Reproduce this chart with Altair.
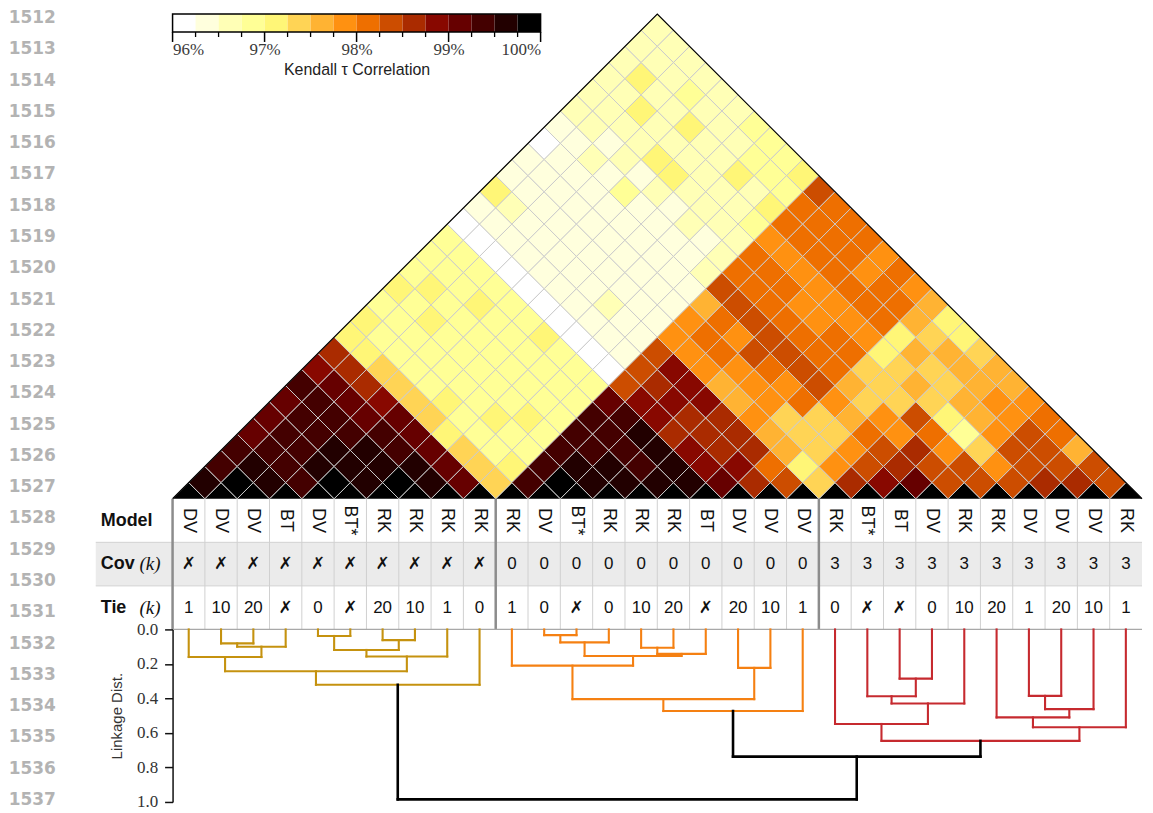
import altair as alt
import pandas as pd

N = 30
SANS = "Liberation Sans"
SERIF = "Liberation Serif"

# ---------------- table rows ----------------
model = ["DV", "DV", "DV", "BT", "DV", "BT*", "RK", "RK", "RK", "RK",
         "RK", "DV", "BT*", "RK", "RK", "RK", "BT", "DV", "DV", "DV",
         "RK", "BT*", "BT", "DV", "RK", "RK", "DV", "DV", "DV", "RK"]
cov_k = ["✗"] * 10 + ["0"] * 10 + ["3"] * 10
tie_k = ["1", "10", "20", "✗", "0", "✗", "20", "10", "1", "0",
         "1", "0", "✗", "0", "10", "20", "✗", "20", "10", "1",
         "0", "✗", "✗", "0", "10", "20", "1", "20", "10", "1"]
line_numbers = [str(n) for n in range(1512, 1538)]

# ---------------- Kendall tau (%) : row i = pairs (i, i+1 .. 29) ----------------
r00 = [99.6, 99.4, 99.4, 99.1, 99.1, 99.1, 99.4, 98.9, 98.6, 97.1, 97.1, 96.9, 97.1, 96.9, 96.9, 96.9, 96.1, 96.4, 97.1,
       96.4, 96.4, 96.1, 96.4, 96.6, 96.6, 96.6, 96.6, 96.6, 96.6]
r01 = [99.9, 99.6, 99.4, 99.4, 99.4, 99.4, 99.1, 98.6, 97.1, 96.9, 96.9, 96.9, 97.1, 96.9, 96.9, 96.1, 96.4, 96.6,
       96.4, 96.4, 96.4, 96.4, 96.6, 96.6, 96.6, 97.1, 96.6, 96.6]
r02 = [99.6, 99.4, 99.4, 99.4, 99.4, 99.1, 98.6, 97.4, 96.9, 96.9, 97.1, 96.9, 96.9, 96.9, 96.1, 96.4, 96.4,
       96.4, 96.4, 96.4, 96.6, 96.4, 96.6, 97.1, 96.6, 96.6, 96.6]
r03 = [99.4, 99.6, 99.6, 99.4, 99.1, 98.9, 97.4, 96.9, 96.9, 96.9, 96.9, 97.1, 96.9, 96.1, 96.4, 96.4,
       96.4, 96.4, 96.4, 96.4, 96.6, 96.6, 96.6, 96.6, 96.9, 96.6]
r04 = [99.9, 99.6, 99.6, 99.4, 99.1, 97.4, 96.9, 96.9, 96.9, 96.9, 96.9, 96.9, 96.1, 96.4, 96.4,
       96.4, 96.4, 96.4, 96.9, 96.4, 97.1, 96.6, 97.1, 96.6, 96.6]
r05 = [99.6, 99.6, 99.4, 99.1, 97.4, 97.1, 96.9, 96.9, 96.9, 96.9, 96.9, 96.1, 96.4, 96.4,
       96.4, 96.4, 96.4, 96.4, 96.6, 97.1, 96.6, 96.6, 96.6, 96.6]
r06 = [99.9, 99.6, 99.1, 97.1, 96.9, 96.9, 96.9, 96.9, 96.9, 97.1, 96.1, 96.4, 96.4,
       96.4, 96.4, 96.4, 96.4, 96.4, 96.6, 96.6, 96.6, 96.6, 96.9]
r07 = [99.6, 99.1, 97.4, 96.9, 97.1, 96.9, 96.9, 96.9, 96.9, 96.1, 96.4, 96.6,
       96.4, 96.4, 96.4, 96.4, 96.6, 96.6, 96.6, 97.1, 96.9, 96.9]
r08 = [99.1, 97.4, 96.9, 96.9, 97.1, 96.9, 96.9, 96.9, 96.1, 96.4, 96.4,
       96.4, 96.4, 96.4, 96.4, 96.4, 96.6, 96.6, 96.6, 96.9, 96.9]
r09 = [97.4, 97.1, 96.9, 96.9, 96.9, 96.9, 96.9, 96.1, 96.4, 96.4,
       96.4, 96.4, 96.4, 96.6, 96.6, 96.6, 96.9, 97.1, 96.9, 97.1]
r10 = [99.4, 99.4, 99.4, 99.4, 99.4, 99.1, 98.4, 98.4, 98.4,
       97.9, 97.9, 97.6, 98.4, 98.1, 98.1, 97.9, 98.1, 98.1, 98.4]
r11 = [99.9, 99.6, 99.4, 99.4, 99.4, 98.9, 98.6, 98.9,
       97.9, 98.1, 98.1, 98.4, 98.1, 98.1, 97.9, 98.1, 98.1, 98.1]
r12 = [99.6, 99.6, 99.4, 99.6, 98.9, 98.9, 98.9,
       97.9, 98.1, 97.9, 98.4, 98.1, 98.1, 97.9, 98.1, 98.1, 98.1]
r13 = [99.6, 99.4, 99.6, 98.6, 98.6, 98.9,
       97.6, 97.9, 98.4, 98.4, 98.1, 97.9, 97.9, 98.1, 98.1, 98.1]
r14 = [99.6, 99.6, 98.9, 98.6, 98.6,
       97.6, 97.9, 98.1, 98.4, 98.1, 97.9, 97.9, 98.1, 97.9, 97.9]
r15 = [99.6, 98.9, 98.6, 98.6,
       97.9, 97.9, 97.9, 98.4, 98.1, 98.1, 97.9, 98.1, 98.1, 98.1]
r16 = [99.1, 98.9, 98.6,
       97.6, 97.4, 98.1, 98.4, 98.1, 98.1, 97.9, 98.1, 98.1, 97.9]
r17 = [98.6, 98.1,
       97.6, 97.4, 97.4, 97.9, 97.6, 97.4, 97.1, 97.1, 97.6, 97.6]
r18 = [98.4,
       97.1, 97.4, 97.4, 97.6, 97.4, 97.4, 97.4, 97.6, 97.4, 97.1]
r19 = [97.4, 97.9, 97.9, 98.1, 97.9, 97.4, 97.6, 97.4, 97.6, 97.1]
r20 = [98.6, 98.4, 98.4, 97.9, 98.4, 97.4, 97.4, 97.6, 97.4]
r21 = [98.9, 98.6, 98.6, 98.1, 97.1, 97.6, 97.6, 97.6]
r22 = [99.1, 98.4, 97.9, 96.9, 97.6, 97.9, 97.6]
r23 = [98.4, 98.4, 97.4, 97.9, 97.9, 97.9]
r24 = [98.4, 97.9, 98.4, 98.4, 98.1]
r25 = [98.4, 98.4, 98.4, 98.1]
r26 = [98.6, 98.4, 97.6]
r27 = [98.6, 98.4]
r28 = [98.4]
tau_rows = [r00, r01, r02, r03, r04, r05, r06, r07, r08, r09, r10, r11, r12, r13, r14,
            r15, r16, r17, r18, r19, r20, r21, r22, r23, r24, r25, r26, r27, r28]

# 16-level afmhot_r-like colour map, 96% .. 100%
cmap16 = ["#ffffff", "#ffffdd", "#ffffb6", "#ffff96", "#fff677", "#ffd455", "#ffb333", "#ff9111",
          "#ee6f00", "#cc4d00", "#aa2b00", "#880800", "#660000", "#440000", "#220000", "#000000"]
cbar_ticks = [96, 97, 98, 99, 100]

# ---------------- hierarchical linkage (new cluster id = 30 + row) ----------------
link_left = [1, 30, 0, 4, 6, 33, 35, 32, 37, 11, 39, 14, 41, 40, 10, 17, 44, 46,
             22, 21, 49, 20, 26, 52, 25, 54, 51, 47, 38]
link_right = [2, 3, 31, 5, 7, 34, 8, 36, 9, 12, 13, 15, 16, 42, 43, 18, 45, 19,
              23, 48, 24, 50, 27, 28, 53, 29, 55, 56, 57]
link_height = [0.081, 0.100, 0.160, 0.038, 0.062, 0.119, 0.157, 0.242, 0.321,
               0.033, 0.075, 0.106, 0.142, 0.154, 0.210, 0.223, 0.404, 0.473,
               0.285, 0.387, 0.429, 0.548, 0.385, 0.462, 0.510, 0.567, 0.646,
               0.737, 0.985]
link_group = ["g1"] * 9 + ["g2"] * 9 + ["g3"] * 9 + ["top", "top"]
link_colors = {"g1": "#c5920f", "g2": "#f58012", "g3": "#c62a2f", "top": "#000000"}

# ---------------- layout ----------------
W = 972
u = W / N
HA = u * N / 2          # triangle height
HB = 131                # table
HC = 173                # dendrogram

# ---------------- heat-map cells ----------------
recs = [{"i": i, "j": i, "tau": 100.0} for i in range(N)]
for i, row in enumerate(tau_rows):
    assert len(row) == N - 1 - i, (i, len(row))
    for k, v in enumerate(row):
        recs.append({"i": i, "j": i + 1 + k, "tau": v})
cells = pd.DataFrame(recs)
cells["cx"] = (cells["i"] + cells["j"] + 1) / 2
cells["cy"] = (cells["j"] - cells["i"]) / 2

cscale = alt.Scale(type="quantize", domain=[96, 100], range=cmap16, nice=False)
xs = alt.Scale(domain=[0, N], nice=False, zero=False)
ys = alt.Scale(domain=[0, N / 2], nice=False, zero=False)

diamonds = alt.Chart(cells).mark_point(
    shape="diamond", filled=True, size=u * u, opacity=1,
    stroke="#cbcbcb", strokeWidth=1, clip=True
).encode(
    x=alt.X("cx:Q", scale=xs, axis=None),
    y=alt.Y("cy:Q", scale=ys, axis=None),
    color=alt.Color("tau:Q", scale=cscale, legend=None),
)

outline = alt.Chart(pd.DataFrame({"cx": [0, N / 2, N], "cy": [0, N / 2, 0], "o": [0, 1, 2]})).mark_line(
    color="black", strokeWidth=1.2
).encode(x=alt.X("cx:Q", scale=xs, axis=None), y=alt.Y("cy:Q", scale=ys, axis=None), order="o:Q")

# colour bar (drawn from the same colour scale)
step = (cbar_ticks[-1] - cbar_ticks[0]) / len(cmap16)
cb = pd.DataFrame({"lo": [cbar_ticks[0] + k * step for k in range(len(cmap16))]})
cb["hi"] = cb["lo"] + step
cb["mid"] = cb["lo"] + step / 2
cbx = alt.Scale(domain=[cbar_ticks[0], cbar_ticks[-1]], range=[0, 369], nice=False, zero=False)
CB_TOP, CB_BOT = 0, 18
cb_axis = alt.Axis(orient="bottom", offset=CB_BOT - HA, values=cbar_ticks,
                   labelExpr="datum.value + '%'", ticks=False, domain=False, grid=False,
                   labelPadding=10, labelFont=SERIF, labelFontSize=17, labelColor="#3a3a3a",
                   title="Kendall τ Correlation", titleFont=SANS, titleFontSize=16,
                   titleFontWeight="normal", titleColor="#222222", titlePadding=4)
cb_rects = alt.Chart(cb).mark_rect().encode(
    x=alt.X("lo:Q", scale=cbx, axis=cb_axis), x2="hi:Q",
    y=alt.value(CB_TOP), y2=alt.value(CB_BOT),
    color=alt.Color("mid:Q", scale=cscale, legend=None),
)
cb_frame = alt.Chart(pd.DataFrame({"lo": [cbar_ticks[0]], "hi": [cbar_ticks[-1]]})).mark_rect(
    filled=False, stroke="black", strokeWidth=1.5
).encode(x=alt.X("lo:Q", scale=cbx), x2="hi:Q", y=alt.value(CB_TOP), y2=alt.value(CB_BOT))
tk = pd.DataFrame({"lo": [cbar_ticks[0] + k * step for k in range(len(cmap16) + 1)]})
tk["major"] = (tk["lo"] % 1 == 0)
cb_minor = alt.Chart(tk).transform_filter("!datum.major").mark_rule(color="black", strokeWidth=1.3).encode(
    x=alt.X("lo:Q", scale=cbx), y=alt.value(CB_BOT), y2=alt.value(CB_BOT + 5))
cb_major = alt.Chart(tk).transform_filter("datum.major").mark_rule(color="black", strokeWidth=1.5).encode(
    x=alt.X("lo:Q", scale=cbx), y=alt.value(CB_BOT), y2=alt.value(CB_BOT + 10))

panelA = alt.layer(
    alt.layer(diamonds, outline),
    alt.layer(cb_rects, cb_frame, cb_minor, cb_major),
).resolve_scale(x="independent").properties(width=W, height=HA)

# ---------------- table ----------------
rows = ["Model", "Cov", "Tie"]
tab = []
for c in range(N):
    tab.append({"col": c + 0.5, "row": "Model", "txt": model[c]})
    tab.append({"col": c + 0.5, "row": "Cov", "txt": cov_k[c]})
    tab.append({"col": c + 0.5, "row": "Tie", "txt": tie_k[c]})
tab = pd.DataFrame(tab)
xs_b = alt.Scale(domain=[0, N], nice=False, zero=False)
ys_b = alt.Scale(domain=rows, paddingInner=0, paddingOuter=0)
Yrow = alt.Y("row:N", scale=ys_b, axis=None)

group_breaks = [k for k in range(1, N) if cov_k[k] != cov_k[k - 1]]
light = pd.DataFrame({"b": [k for k in range(1, N) if k not in group_breaks]})
dark = pd.DataFrame({"b": [0] + group_breaks})

bg = alt.Chart(pd.DataFrame({"row": ["Cov"]})).mark_rect(color="#ebebeb").encode(
    x=alt.value(-77), x2=alt.value(W), y=Yrow)
hl = alt.Chart(pd.DataFrame({"row": ["Cov", "Tie"]})).mark_rule(color="#d2d2d2", strokeWidth=1).encode(
    x=alt.value(-77), x2=alt.value(W), y=alt.Y("row:N", scale=ys_b, axis=None, bandPosition=0))
hb = alt.Chart(pd.DataFrame({"row": ["Tie"]})).mark_rule(color="#a8a8a8", strokeWidth=1.2).encode(
    x=alt.value(0), x2=alt.value(W), y=alt.Y("row:N", scale=ys_b, axis=None, bandPosition=1))
vl = alt.Chart(light).mark_rule(color="#d0d0d0", strokeWidth=1).encode(
    x=alt.X("b:Q", scale=xs_b, axis=None))
vd = alt.Chart(dark).mark_rule(color="#8c8c8c", strokeWidth=2.5).encode(
    x=alt.X("b:Q", scale=xs_b, axis=None))

t_model = alt.Chart(tab).transform_filter("datum.row == 'Model'").mark_text(
    angle=90, font=SANS, fontSize=18, color="#111111", baseline="middle", align="center"
).encode(x=alt.X("col:Q", scale=xs_b, axis=None), y=Yrow, text="txt:N")
t_num = alt.Chart(tab).transform_filter("datum.row != 'Model' && datum.txt != '✗'").mark_text(
    font=SANS, fontSize=17, color="#111111", baseline="middle", align="center"
).encode(x=alt.X("col:Q", scale=xs_b, axis=None), y=Yrow, text="txt:N")
t_x = alt.Chart(tab).transform_filter("datum.row != 'Model' && datum.txt == '✗'").mark_text(
    font="DejaVu Sans", fontSize=17, fontWeight="bold", color="#111111", baseline="middle", align="center"
).encode(x=alt.X("col:Q", scale=xs_b, axis=None), y=Yrow, text="txt:N")

rowlab = pd.DataFrame({"row": rows, "name": rows, "unit": ["", "(k)", "(k)"]})
t_lab = alt.Chart(rowlab).mark_text(
    align="left", baseline="middle", font=SANS, fontSize=18, fontWeight="bold", color="#111111"
).encode(x=alt.value(-72), y=Yrow, text="name:N")
t_unit = alt.Chart(rowlab).transform_filter("datum.unit != ''").mark_text(
    align="right", baseline="middle", font=SERIF, fontSize=19, fontStyle="italic", color="#111111"
).encode(x=alt.value(-12), y=Yrow, text="unit:N")

panelB = alt.layer(bg, hl, vl, vd, hb, t_model, t_num, t_x, t_lab, t_unit).properties(width=W, height=HB)

# ---------------- dendrogram ----------------
pos = {k: k + 0.5 for k in range(N)}
hgt = {k: 0.0 for k in range(N)}
segs = []
for m, (a, b, h, g) in enumerate(zip(link_left, link_right, link_height, link_group)):
    xa, xb = pos[a], pos[b]
    segs.append({"x": xa, "x2": xa, "y": hgt[a], "y2": h, "g": g})
    segs.append({"x": xb, "x2": xb, "y": hgt[b], "y2": h, "g": g})
    segs.append({"x": xa, "x2": xb, "y": h, "y2": h, "g": g})
    pos[N + m] = (xa + xb) / 2
    hgt[N + m] = h
segs = pd.DataFrame(segs)

dy_axis = alt.Axis(values=[0, 0.2, 0.4, 0.6, 0.8, 1.0], format=".1f", grid=False,
                   title="Linkage Dist.", titleFont=SANS, titleFontSize=15, titleFontWeight="normal",
                   titleColor="#333333", titlePadding=12,
                   labelFont=SERIF, labelFontSize=17, labelColor="#333333", labelPadding=7,
                   domainColor="#111111", domainWidth=1.5, tickColor="#111111", tickWidth=1.5, tickSize=8)
xs_c = alt.Scale(domain=[0, N], nice=False, zero=False)
ys_c = alt.Scale(domain=[0, 1], reverse=True, nice=False, zero=False)
dlayers = []
for g in ["g1", "g2", "g3", "top"]:
    dlayers.append(
        alt.Chart(segs).transform_filter(alt.datum.g == g).mark_rule(
            color=link_colors[g], strokeWidth=2.6 if g == "top" else 2.1, strokeCap="square"
        ).encode(
            x=alt.X("x:Q", scale=xs_c, axis=None), x2="x2:Q",
            y=alt.Y("y:Q", scale=ys_c, axis=dy_axis), y2="y2:Q",
        )
    )
panelC = alt.layer(*dlayers).properties(width=W, height=HC)

# ---------------- page line numbers ----------------
ln = pd.DataFrame({"n": line_numbers})
lines_panel = alt.Chart(ln).mark_text(
    align="right", baseline="middle", font="DejaVu Sans", fontWeight="bold", fontSize=17, color="#b3b3b3"
).encode(
    y=alt.Y("n:O", scale=alt.Scale(type="point", padding=0.13), axis=None),
    x=alt.value(47), text="n:N",
).properties(width=47, height=792)

main = alt.vconcat(panelA, panelB, panelC, spacing=0, bounds="flush")
chart = alt.hconcat(lines_panel, main, spacing=117, bounds="flush").properties(
    padding=0, background="white"
).configure_view(stroke=None)

chart.save("out.html", embed_options={"renderer": "svg", "actions": False})
